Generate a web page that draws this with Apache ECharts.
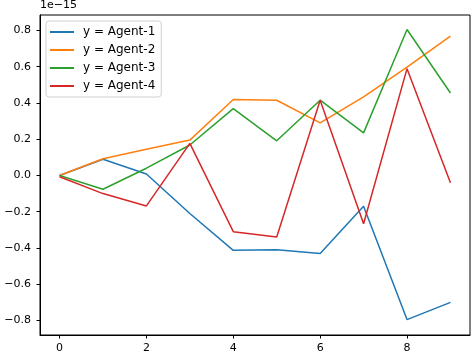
<!DOCTYPE html>
<html>
<head>
<meta charset="utf-8">
<script src="https://cdn.jsdelivr.net/npm/echarts@6/dist/echarts.min.js"></script>
<style>
  html, body { margin: 0; padding: 0; background: #fff; }
  #chart { width: 472px; height: 354px; }
</style>
</head>
<body>
<div id="chart"></div>
<script>
// values are in units of 1e-15
const steps = [0, 1, 2, 3, 4, 5, 6, 7, 8, 9];
const agent1 = [0, 0.089, 0.008, -0.21, -0.413, -0.41, -0.43, -0.17, -0.795, -0.70];
const agent2 = [0, 0.092, 0.144, 0.195, 0.419, 0.415, 0.29, 0.433, 0.598, 0.768];
const agent3 = [0, -0.076, 0.04, 0.168, 0.369, 0.191, 0.415, 0.235, 0.805, 0.455];
const agent4 = [-0.007, -0.10, -0.168, 0.177, -0.31, -0.34, 0.415, -0.266, 0.589, -0.04];
const xTicks = [0, 2, 4, 6, 8];
const yTicks = [-0.8, -0.6, -0.4, -0.2, 0, 0.2, 0.4, 0.6, 0.8];

const names = ['y = Agent-1', 'y = Agent-2', 'y = Agent-3', 'y = Agent-4'];
const colors = ['#1f77b4', '#ff7f0e', '#2ca02c', '#d62728'];
const allData = [agent1, agent2, agent3, agent4];

const font = 'DejaVu Sans';
const chart = echarts.init(document.getElementById('chart'));

chart.setOption({
    animation: false,
    textStyle: { fontFamily: font },
    grid: {
        left: 40, right: 2, top: 15, bottom: 19,
        show: true, borderColor: '#000', borderWidth: 1
    },
    graphic: [{
        type: 'text', left: 40, top: 0,
        style: { text: '1e\u221215', font: '11px "DejaVu Sans"', fill: '#000' }
    }],
    legend: {
        left: 46, top: 21, orient: 'vertical',
        icon: 'rect',
        itemWidth: 24, itemHeight: 2, itemGap: 6,
        padding: [5, 6, 5, 4],
        borderColor: '#d0d0d0', borderWidth: 1, borderRadius: 3,
        textStyle: { fontFamily: font, fontSize: 12, color: '#000', padding: [0, 0, 0, 4] },
        data: names
    },
    xAxis: {
        type: 'value', min: -0.45, max: 9.45,
        splitLine: { show: false },
        axisLine: { show: true, onZero: false, lineStyle: { color: '#000', width: 1 } },
        axisTick: { show: true, length: 3.5, inside: false, customValues: xTicks, lineStyle: { color: '#000' } },
        axisLabel: { customValues: xTicks, color: '#000', fontSize: 11, margin: 8, fontFamily: font }
    },
    yAxis: {
        type: 'value', min: -0.88, max: 0.885,
        splitLine: { show: false },
        axisLine: { show: true, onZero: false, lineStyle: { color: '#000', width: 1 } },
        axisTick: { show: true, length: 3.5, inside: false, customValues: yTicks, lineStyle: { color: '#000' } },
        axisLabel: {
            customValues: yTicks, color: '#000', fontSize: 11, margin: 9, fontFamily: font,
            formatter: v => v.toFixed(1).replace('-', '\u2212')
        }
    },
    series: allData.map((d, i) => ({
        name: names[i],
        type: 'line',
        symbol: 'none',
        color: colors[i],
        lineStyle: { width: 1.5, color: colors[i] },
        data: steps.map((x, j) => [x, d[j]])
    }))
});
</script>
</body>
</html>
